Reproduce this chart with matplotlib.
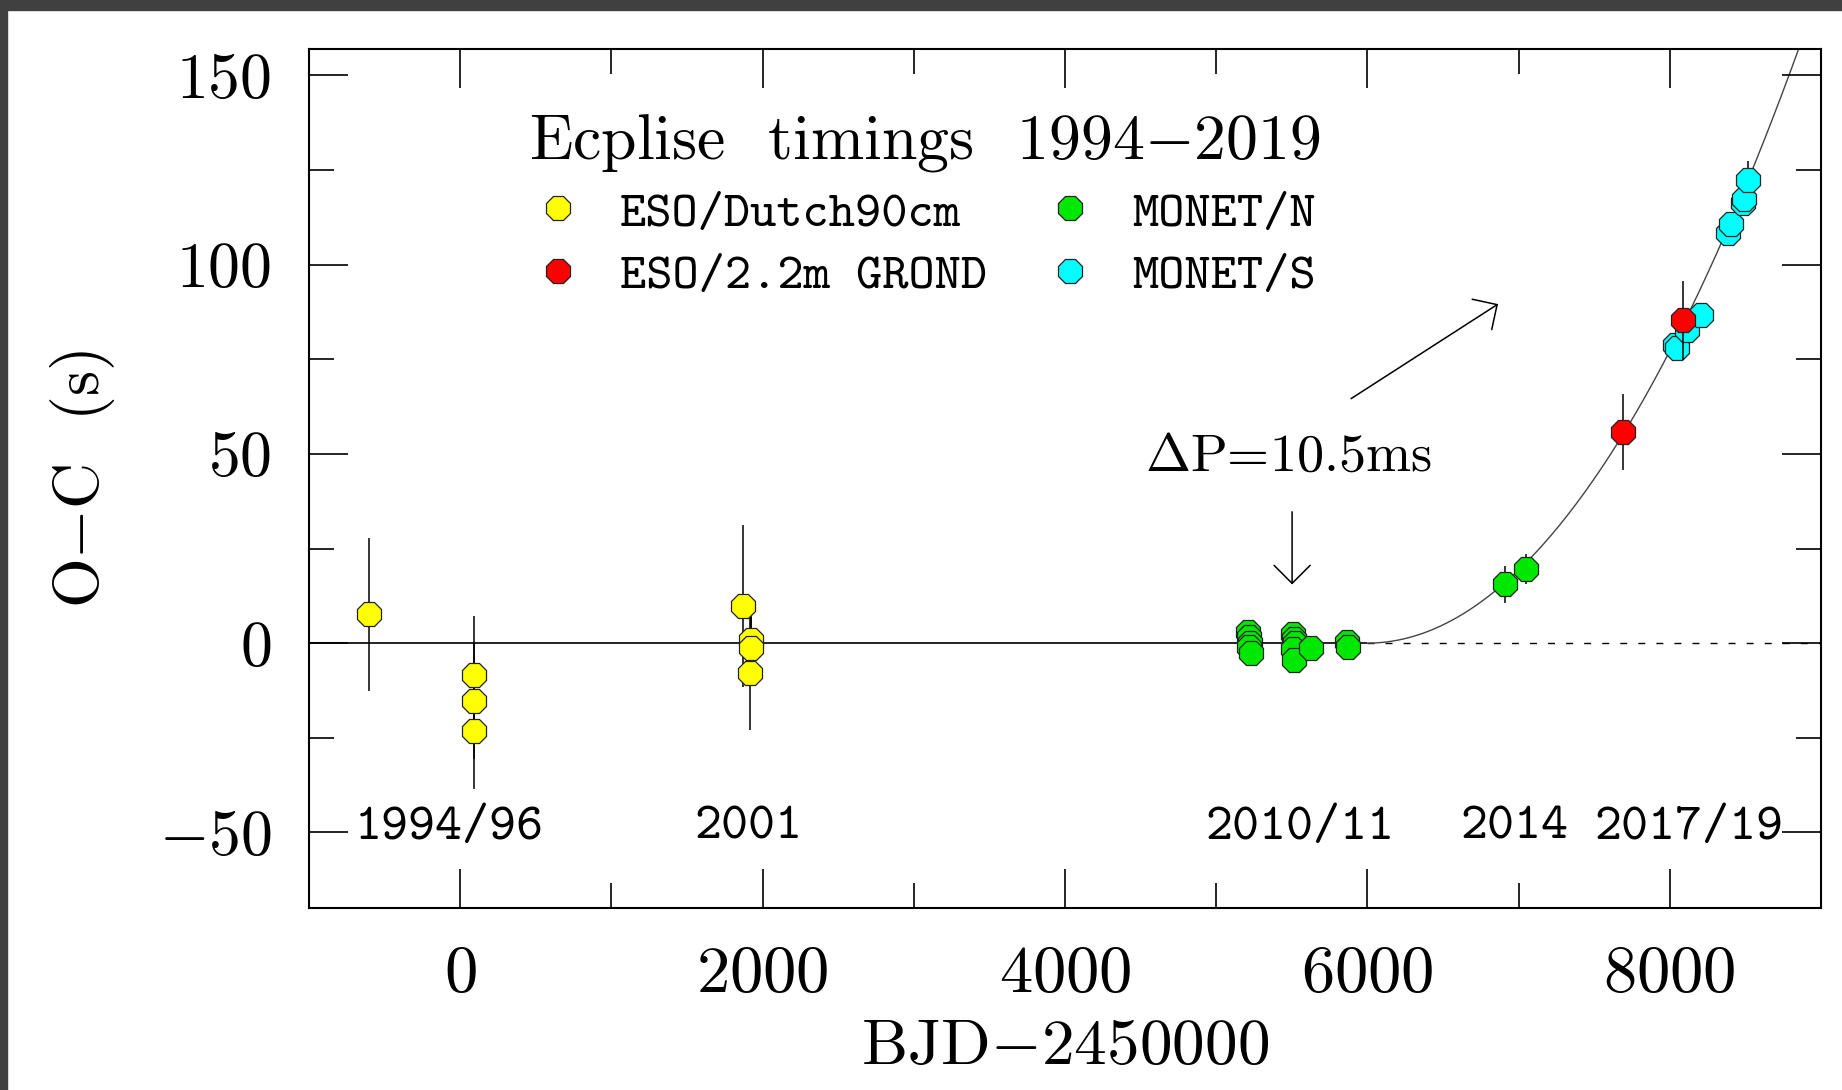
import matplotlib
matplotlib.use("Agg")
import numpy as np
import matplotlib.pyplot as plt
from matplotlib.lines import Line2D
from matplotlib.patches import Rectangle
from matplotlib.ticker import MultipleLocator
from matplotlib.font_manager import FontProperties

plt.rcParams['font.family'] = ['cmr10', 'DejaVu Serif']
plt.rcParams['mathtext.fontset'] = 'cm'
plt.rcParams['axes.formatter.use_mathtext'] = True

# eclipse timings, O-C in seconds vs BJD-2450000
dutch_x = [-606, 90, 90, 90, 1871, 1921, 1921, 1914]
dutch_y = [7.6, -8.3, -15.3, -23.2, 9.9, 0.8, -1.2, -8.0]
dutch_err = [20.3, 15.4, 15.4, 15.4, 21.4, 8, 8, 15]

grond_x = [7690, 8088]
grond_y = [55.7, 85.3]
grond_err = [10, 10.5]

monetn_x = [5212, 5220, 5225, 5218, 5228, 5505, 5512, 5518, 5510, 5515, 5629, 5865, 5872, 6909, 7052]
monetn_y = [3.0, 1.5, 0.0, -1.0, -2.5, 2.5, 1.0, 0.0, -1.5, -4.5, -1.2, 0.3, -1.0, 15.5, 19.5]
monetn_err = [2, 2, 2, 2, 2, 2, 2, 2, 2, 2, 2, 2, 2, 5, 4]

monets_x = [8033, 8046, 8117, 8205, 8382, 8403, 8481, 8492, 8520]
monets_y = [78.7, 77.9, 82.7, 86.6, 108.5, 110.7, 116.4, 117.3, 122.5]
monets_err = [3, 3, 3, 3, 3, 3, 3, 3, 5]

# quadratic ephemeris after the period change
t0 = 6000
coef = 1.93e-5

period_labels = ["1994/96", "2001", "2010/11", "2014", "2017/19"]
period_x = [-70, 1907, 5556, 6973, 8125]
period_y = -49

xmin, xmax = -1000, 9000
ymin, ymax = -70, 157

fig = plt.figure(figsize=(18.42, 10.9), dpi=100)
fig.add_artist(Rectangle((0, 1 - 10 / 1090), 1, 10 / 1090, transform=fig.transFigure,
                         color='#404040', zorder=10))
fig.add_artist(Rectangle((0, 0), 7 / 1842, 1, transform=fig.transFigure,
                         color='#404040', zorder=10))
ax = fig.add_axes([309 / 1842, 1 - 908 / 1090, 1512 / 1842, 859 / 1090])

# zero line and fit
ax.hlines(0, xmin, t0, colors='k', lw=1.2, zorder=1)
ax.hlines(0, t0, xmax, colors='k', lw=1.0, linestyles=(0, (5, 8)), zorder=1)
xc = np.linspace(t0, xmax, 300)
ax.plot(xc, coef * (xc - t0) ** 2, color='#444444', lw=1.0, zorder=1)

def plot_set(x, y, err, color, z):
    ax.errorbar(x, y, yerr=err, fmt='none', ecolor='k', elinewidth=1.1, capsize=0, zorder=z)
    ax.plot(x, y, ls='none', marker='8', ms=19, mfc=color, mec='#222222', mew=0.9, zorder=z + 0.5)

plot_set(dutch_x, dutch_y, dutch_err, '#ffff00', 3)
plot_set(monetn_x, monetn_y, monetn_err, '#00e800', 3)
plot_set(monets_x, monets_y, monets_err, '#00ffff', 3)
plot_set(grond_x, grond_y, grond_err, '#ff0000', 5)

for lab, x in zip(period_labels, period_x):
    ax.text(x, period_y, lab, ha='center', va='center', fontsize=37, family='cmtt10')

ax.text(5480, 49, r"$\Delta$P=10.5ms", ha='center', va='center', fontsize=39)
arw = dict(arrowstyle='->,head_length=0.65,head_width=0.65', lw=1.1, color='k',
           mutation_scale=20, shrinkA=0, shrinkB=0)
ax.annotate('', xy=(5502, 15.5), xytext=(5502, 34.7), arrowprops=arw)
ax.annotate('', xy=(6864, 89.6), xytext=(5892, 64.6), arrowprops=arw)

# legend
colors = ['#ffff00', '#ff0000', '#00e800', '#00ffff']
labels = ["ESO/Dutch90cm", "ESO/2.2m GROND", "MONET/N", "MONET/S"]
handles = [Line2D([], [], ls='none', marker='8', ms=19, mfc=c, mec='#222222', mew=0.9)
           for c in colors]
ax.legend(handles, labels, ncol=2, title=r"Ecplise  timings  1994$-$2019", frameon=False,
          loc='upper center', bbox_to_anchor=(0.407, 0.979),
          prop=FontProperties(family='cmtt10', size=36),
          title_fontproperties=FontProperties(family='cmr10', size=46),
          handletextpad=0.75, columnspacing=1.15, labelspacing=0.33, handlelength=1.0)

ax.set_xlim(xmin, xmax)
ax.set_ylim(ymin, ymax)
ax.xaxis.set_major_locator(MultipleLocator(2000))
ax.xaxis.set_minor_locator(MultipleLocator(1000))
ax.yaxis.set_major_locator(MultipleLocator(50))
ax.yaxis.set_minor_locator(MultipleLocator(25))
ax.tick_params(which='both', direction='in', top=True, right=True, width=1.2)
ax.tick_params(which='major', length=28, labelsize=46, pad=27)
ax.tick_params(axis='x', which='major', labelsize=48)
ax.tick_params(which='minor', length=18)
for s in ax.spines.values():
    s.set_linewidth(1.5)

ax.set_xlabel(r"BJD$-$2450000", fontsize=47, labelpad=10)
ax.set_ylabel(r"O$-$C  (s)", fontsize=46, labelpad=30)

fig.savefig("out.png", dpi=100, facecolor='white')
